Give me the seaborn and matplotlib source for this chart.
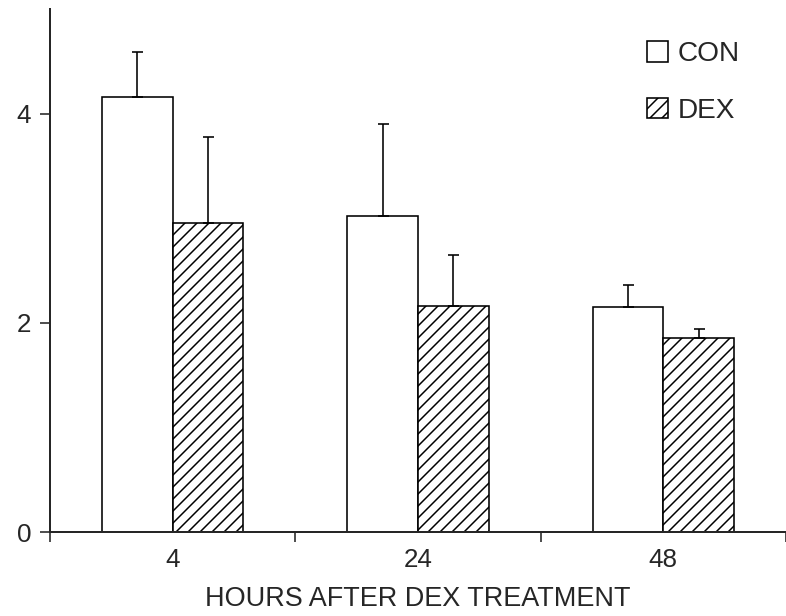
import numpy as np
import pandas as pd
import matplotlib
matplotlib.use('Agg')
import matplotlib.pyplot as plt
from matplotlib.patches import Patch
import seaborn as sns

# values
hours = ['4', '24', '48']
con_mean = [4.16, 3.02, 2.15]
con_err = [0.43, 0.88, 0.21]
dex_mean = [2.95, 2.16, 1.85]
dex_err = [0.83, 0.49, 0.09]
groups = ['CON', 'DEX']
yticks = [0, 2, 4]

df = pd.DataFrame({
    'hours': hours * 2,
    'group': ['CON'] * 3 + ['DEX'] * 3,
    'value': con_mean + dex_mean,
})

sns.set_style('ticks')
plt.rcParams['font.family'] = ['Liberation Sans', 'DejaVu Sans']
plt.rcParams['hatch.linewidth'] = 1.5

fig = plt.figure(figsize=(786 / 72, 616 / 72), dpi=72)
ax = fig.add_axes([50 / 786, 1 - 532 / 616, 1 - 50 / 786, (532 - 9) / 616])

sns.barplot(data=df, x='hours', y='value', hue='group', order=hours,
            hue_order=groups, palette=['white', 'white'], edgecolor='black',
            linewidth=1.6, width=0.577, errorbar=None, legend=False, ax=ax)

# hatch the DEX bars
for bar in ax.containers[1]:
    bar.set_hatch('//')

# one-sided error bars
for cont, means, errs in zip(ax.containers, [con_mean, dex_mean], [con_err, dex_err]):
    xs = [b.get_x() + b.get_width() / 2 for b in cont]
    ax.errorbar(xs, means, yerr=[np.zeros(len(errs)), errs], fmt='none',
                ecolor='black', elinewidth=1.6, capsize=5.5, capthick=1.6)

ax.set_xlim(-0.5, 2.476)
ax.set_ylim(0, 5)
ax.set_yticks(yticks)
ax.set_xticks(range(len(hours)))
ax.set_xticklabels(hours)
ax.set_xticks([-0.5, 0.5, 1.5, 2.5], minor=True)
ax.tick_params(axis='x', which='major', length=0, pad=16, labelsize=26)
ax.tick_params(axis='x', which='minor', length=10, width=1.6, direction='out')
ax.tick_params(axis='y', length=10, width=1.6, direction='out', pad=9, labelsize=26)

ax.set_xlabel('HOURS AFTER DEX TREATMENT', fontsize=27, labelpad=14)
ax.set_ylabel('')
sns.despine(ax=ax)
for s in ['left', 'bottom']:
    ax.spines[s].set_linewidth(2)

handles = [Patch(facecolor='white', edgecolor='black', linewidth=1.6),
           Patch(facecolor='white', edgecolor='black', linewidth=1.6, hatch='//')]
ax.legend(handles, groups, loc='upper left', bbox_to_anchor=(0.796, 0.96),
          frameon=False, fontsize=28, handlelength=0.75, handleheight=0.75,
          handletextpad=0.35, labelspacing=1.1, borderaxespad=0)

fig.savefig('out.png', dpi=72)
